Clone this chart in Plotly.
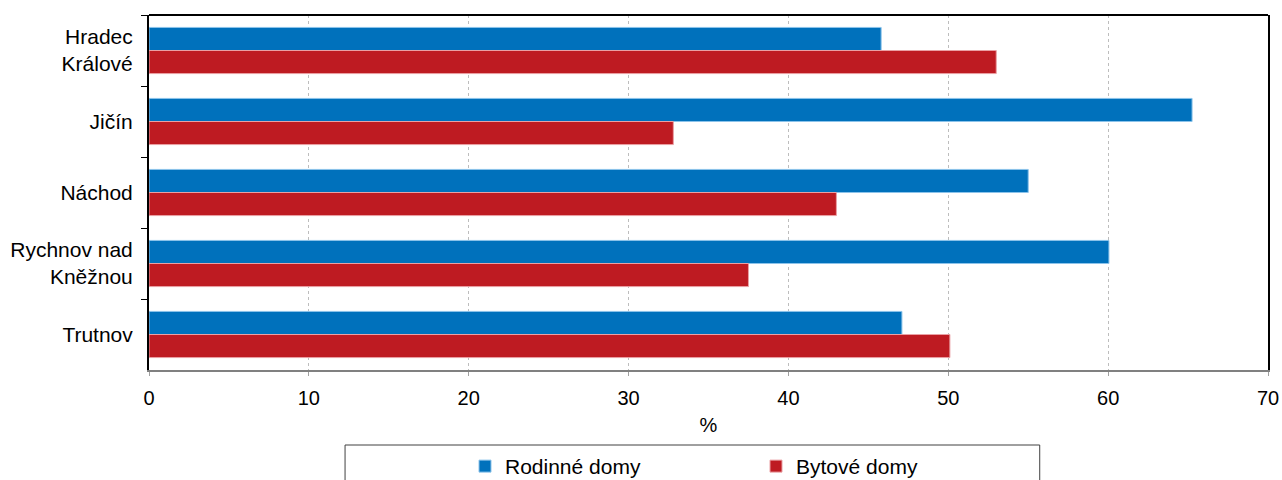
import plotly.graph_objects as go

categories = ["Hradec<br>Králové", "Jičín", "Náchod", "Rychnov nad<br>Kněžnou", "Trutnov"]
rodinne = [45.8, 65.25, 55.0, 60.05, 47.1]
bytove = [53.0, 32.8, 43.0, 37.5, 50.1]
x_ticks = [0, 10, 20, 30, 40, 50, 60, 70]

FONT = "Liberation Sans, Arial, sans-serif"

fig = go.Figure()
fig.add_trace(go.Bar(
    y=categories, x=rodinne, orientation="h", name="Rodinné domy",
    marker=dict(color="#0071bc", line=dict(color="#8cc3ea", width=1)),
))
fig.add_trace(go.Bar(
    y=categories, x=bytove, orientation="h", name="Bytové domy",
    marker=dict(color="#be1b22", line=dict(color="#eaa0a4", width=1)),
))

fig.update_layout(
    width=1282, height=480,
    margin=dict(l=149, r=14, t=15, b=110, pad=0, autoexpand=False),
    paper_bgcolor="white", plot_bgcolor="white",
    barmode="group", bargap=0.35, bargroupgap=0,
    font=dict(family=FONT, size=21, color="#000000"),
    showlegend=True,
    legend=dict(
        orientation="h", x=0.2824, xanchor="left", y=-0.214, yanchor="top",
        font=dict(size=21, family=FONT), entrywidth=246, entrywidthmode="pixels",
        bgcolor="rgba(0,0,0,0)", borderwidth=0, traceorder="normal",
    ),
    xaxis=dict(
        range=[0, 70], tickvals=x_ticks, ticktext=[str(v) for v in x_ticks],
        showgrid=True, gridcolor="#bdbdbd", griddash="dot", gridwidth=1,
        showline=True, linecolor="#808080", linewidth=2,
        ticks="outside", ticklen=4, tickcolor="#a0a0a0", tickwidth=1,
        ticklabelstandoff=5, tickfont=dict(size=20),
        title=dict(text="%", font=dict(size=20), standoff=10),
        zeroline=False, fixedrange=True, automargin=False,
    ),
    yaxis=dict(
        autorange="reversed", type="category",
        showline=True, linecolor="#000000", linewidth=2, mirror=True,
        ticks="outside", ticklen=6, tickcolor="#000000", tickwidth=1,
        tickson="boundaries", ticklabelstandoff=10, tickfont=dict(size=21),
        showgrid=False, zeroline=False, automargin=False, fixedrange=True,
    ),
    shapes=[
        dict(type="line", xref="paper", yref="paper", x0=0, x1=1, y0=1, y1=1,
             line=dict(color="#000000", width=2)),
        dict(type="rect", xref="paper", yref="paper", x0=0.1752, x1=0.796, y0=-0.2113, y1=-0.36,
             line=dict(color="#404040", width=1)),
    ],
)

# remove the browser's default 8px body margin so the figure sits at the page origin
fig.write_html(
    "out.html",
    config={"displayModeBar": False},
    post_script="document.body.style.margin='0';document.body.style.overflow='hidden';",
)
